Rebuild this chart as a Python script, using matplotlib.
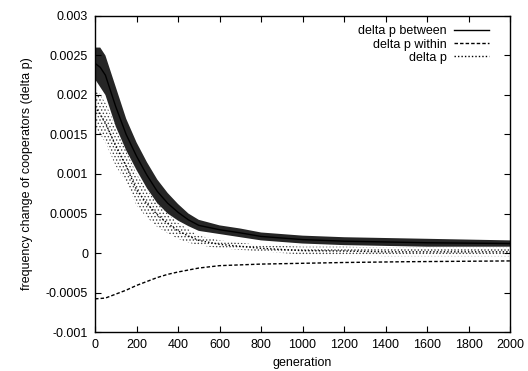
import numpy as np
import matplotlib
matplotlib.use("Agg")
import matplotlib.pyplot as plt

plt.rcParams['font.family'] = ['Liberation Sans', 'DejaVu Sans']
plt.rcParams['hatch.linewidth'] = 0.6

gens = [0, 25, 50, 100, 150, 200, 250, 300, 350, 400, 450, 500, 600, 700,
        800, 900, 1000, 1200, 1400, 1600, 1800, 2000]

# delta p between (solid): upper / lower edge of the noisy band
between_hi = [0.0026, 0.0026, 0.0025, 0.0021, 0.0017, 0.0014, 0.00115, 0.00093,
              0.00076, 0.00062, 0.0005, 0.00042, 0.00035, 0.00031, 0.00026,
              0.00024, 0.00022, 0.0002, 0.00019, 0.00018, 0.00017, 0.00016]
between_lo = [0.0022, 0.0021, 0.0020, 0.0016, 0.0013, 0.00105, 0.00082, 0.00063,
              0.0005, 0.00041, 0.00034, 0.00028, 0.00024, 0.0002, 0.00016,
              0.00014, 0.00012, 0.0001, 0.00009, 0.00008, 0.00008, 0.00008]

# delta p (dotted): upper / lower edge
dp_hi = [0.0021, 0.0020, 0.0019, 0.0016, 0.0013, 0.0010, 0.0008, 0.00064,
         0.0005, 0.00038, 0.0003, 0.00022, 0.00016, 0.00013, 0.0001, 0.00009,
         0.00008, 0.00008, 0.00007, 0.00007, 0.00007, 0.00007]
dp_lo = [0.0016, 0.0015, 0.0014, 0.0011, 0.0009, 0.0006, 0.00045, 0.00033,
         0.00025, 0.00018, 0.00013, 0.0001, 0.00006, 0.00004, 0.00002, 0.0,
         -0.00002, -0.00003, -0.00004, -0.00004, -0.00004, -0.00004]

# delta p within (dashed), almost noise free
within_gens = [0, 50, 100, 150, 200, 250, 300, 350, 400, 500, 600, 700, 800,
               1000, 1200, 1500, 2000]
within = [-0.00058, -0.00057, -0.00052, -0.00047, -0.00041, -0.00036, -0.00031,
          -0.00027, -0.00024, -0.00019, -0.00016, -0.00015, -0.00014, -0.00013,
          -0.00012, -0.00011, -0.0001]

xticks = list(range(0, 2001, 200))
yticks = [-0.001, -0.0005, 0, 0.0005, 0.001, 0.0015, 0.002, 0.0025, 0.003]
ytick_labels = ['-0.001', '-0.0005', '0', '0.0005', '0.001', '0.0015',
                '0.002', '0.0025', '0.003']

fig = plt.figure(figsize=(5.28, 3.71), dpi=100)
ax = fig.add_axes([0.18, 0.105, 0.786, 0.852])

bh, bl = np.array(between_hi), np.array(between_lo)
dh, dl = np.array(dp_hi), np.array(dp_lo)

# noise bands
ax.fill_between(gens, bl, bh, facecolor='black', alpha=0.85, linewidth=0)
ax.fill_between(gens, dl, dh, facecolor='none', edgecolor='0.25',
                hatch='.....', linewidth=0)

ax.plot(gens, (bh + bl) / 2, color='black', lw=1.0, label='delta p between')
ax.plot(within_gens, within, color='black', lw=1.0, dashes=(2.5, 1.5),
        label='delta p within')
ax.plot(gens, (dh + dl) / 2, color='black', lw=1.0, dashes=(1, 1.5),
        label='delta p')

ax.set_xlim(0, 2000)
ax.set_ylim(-0.001, 0.003)
ax.set_xticks(xticks)
ax.set_yticks(yticks)
ax.set_yticklabels(ytick_labels)
ax.tick_params(direction='in', top=True, right=True, length=4, width=0.8,
               labelsize=9, pad=5)
for s in ax.spines.values():
    s.set_linewidth(1.0)

ax.set_xlabel('generation', fontsize=9, labelpad=4)
ax.set_ylabel('frequency change of cooperators (delta p)', fontsize=9, labelpad=9)

ax.legend(loc='upper right', bbox_to_anchor=(0.973, 1.0), frameon=False,
          markerfirst=False, fontsize=9, handlelength=2.8, labelspacing=0.1,
          borderaxespad=0.65, handletextpad=0.6, borderpad=0.1)

fig.savefig('out.png', dpi=100)
